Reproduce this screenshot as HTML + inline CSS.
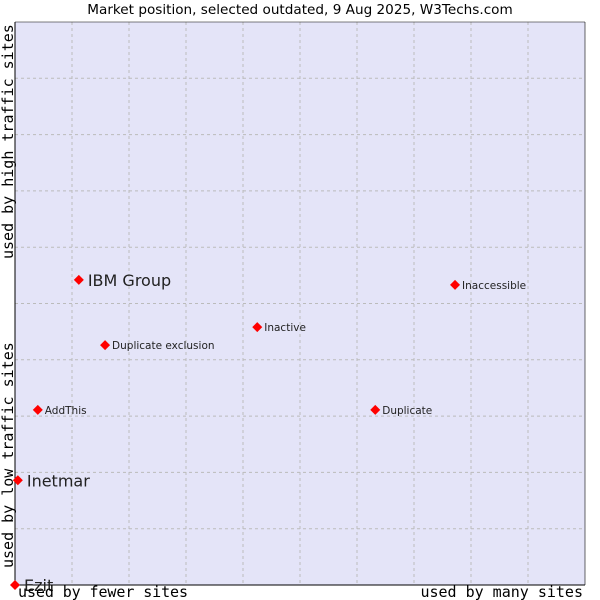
<!DOCTYPE html>
<html><head><meta charset="utf-8"><style>
body{margin:0;background:#fff;}
svg{display:block;font-family:"DejaVu Sans","Liberation Sans",sans-serif;}
</style></head><body>
<svg id="chart" width="600" height="600" viewBox="0 0 600 600">
<text x="300" y="14" text-anchor="middle" font-size="13.6" fill="#000">Market position, selected outdated, 9 Aug 2025, W3Techs.com</text>
<rect x="15" y="22" width="570" height="563" fill="#e4e4f8"/>
<g id="grid"></g>
<line x1="15" y1="22" x2="15" y2="585" stroke="#000"/>
<line x1="15" y1="585" x2="585" y2="585" stroke="#000"/>
<line x1="15" y1="22" x2="585" y2="22" stroke="#000" stroke-width="0.6"/>
<line x1="585" y1="22" x2="585" y2="585" stroke="#000" stroke-width="0.6"/>
<g id="points"></g>
<text x="18" y="597" font-family="DejaVu Sans Mono,monospace" font-size="15" textLength="170">used by fewer sites</text>
<text x="583" y="597" text-anchor="end" font-family="DejaVu Sans Mono,monospace" font-size="15">used by many sites</text>
<text transform="translate(13,568) rotate(-90)" font-family="DejaVu Sans Mono,monospace" font-size="15">used by low traffic sites</text>
<text transform="translate(13,259) rotate(-90)" font-family="DejaVu Sans Mono,monospace" font-size="15">used by high traffic sites</text>
</svg>
<script>
const names = ["Ezit","Inetmar","AddThis","IBM Group","Duplicate exclusion","Inactive","Duplicate","Inaccessible"];
const xValues = [0,0.5,4.0,11.2,15.8,42.5,63.2,77.2];
const yValues = [0,18.6,31.1,54.2,42.6,45.8,31.1,53.3];
const bigLabel = [true,true,false,true,false,false,false,false];
const NS="http://www.w3.org/2000/svg";
const L=15,R=585,T=22,B=585;
const sx=v=>L+v/100*(R-L);
const sy=v=>B-v/100*(B-T);
const grid=document.getElementById('grid');
for(let k=1;k<10;k++){
  const gx=document.createElementNS(NS,'line');
  
  
  const x=L+57*k;
  gx.setAttribute('x1',x);gx.setAttribute('x2',x);gx.setAttribute('y1',T);gx.setAttribute('y2',B);
  gx.setAttribute('stroke','#bbb');gx.setAttribute('stroke-dasharray','3,3');
  grid.appendChild(gx);
  const gy=document.createElementNS(NS,'line');
  
  
  const y=sy(k*10);
  gy.setAttribute('x1',L);gy.setAttribute('x2',R);gy.setAttribute('y1',y);gy.setAttribute('y2',y);
  gy.setAttribute('stroke','#bbb');gy.setAttribute('stroke-dasharray','3,3');
  grid.appendChild(gy);
}
const pts=document.getElementById('points');
names.forEach((n,i)=>{
  const x=sx(xValues[i]),y=sy(yValues[i]);
  const d=document.createElementNS(NS,'polygon');
  
  
  d.setAttribute('points',`${x},${y-5} ${x+5},${y} ${x},${y+5} ${x-5},${y}`);
  d.setAttribute('fill','#ff0000');
  pts.appendChild(d);
  const t=document.createElementNS(NS,'text');
  
  
  t.setAttribute('x',x+(bigLabel[i]?9:7));
  t.setAttribute('y',y+(bigLabel[i]?6:4));
  t.setAttribute('font-size',bigLabel[i]?16:10.5);
  t.setAttribute('fill','#222');
  t.textContent=n;
  pts.appendChild(t);
});
</script>
</body></html>
